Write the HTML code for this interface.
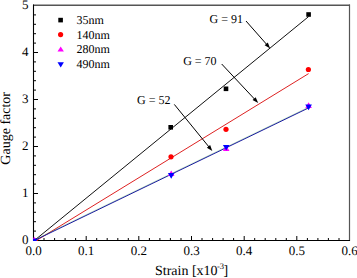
<!DOCTYPE html>
<html><head><meta charset="utf-8">
<style>
html,body{margin:0;padding:0;background:#fff;}
body{width:357px;height:278px;overflow:hidden;position:relative;}
svg{position:absolute;left:0;top:0;}
text{font-family:"Liberation Serif",serif;fill:#000;text-rendering:geometricPrecision;}
</style></head><body>
<svg width="357" height="278" viewBox="0 0 357 278">
<defs>
<clipPath id="pa"><rect x="33" y="5" width="317" height="236"/></clipPath>
</defs>
<!-- frame -->
<line x1="33" y1="5.2" x2="350" y2="5.2" stroke="#555" stroke-width="1.4"/>
<line x1="349.5" y1="4.5" x2="349.5" y2="241" stroke="#555" stroke-width="1.2"/>
<line x1="33.5" y1="4.5" x2="33.5" y2="241" stroke="#000" stroke-width="1.1"/>
<line x1="33" y1="240.5" x2="350" y2="240.5" stroke="#000" stroke-width="1.1"/>
<!-- y ticks -->
<g stroke="#000" stroke-width="1">
<path d="M34 193.5h4M34 146.5h4M34 99.5h4M34 52.5h4"/>
<path d="M34 231.1h2M34 221.7h2M34 212.3h2M34 202.9h2M34 184.1h2M34 174.7h2M34 165.3h2M34 155.9h2M34 137.1h2M34 127.7h2M34 118.3h2M34 108.9h2M34 90.1h2M34 80.7h2M34 71.3h2M34 61.9h2M34 43.1h2M34 33.7h2M34 24.3h2M34 14.9h2"/>
</g>
<!-- x ticks -->
<g stroke="#000" stroke-width="1">
<path d="M86.2 240v-4M138.8 240v-4M191.5 240v-4M244.2 240v-4M296.8 240v-4"/>
<path d="M44.0 240v-2M54.6 240v-2M65.1 240v-2M75.6 240v-2M96.7 240v-2M107.2 240v-2M117.8 240v-2M128.3 240v-2M149.4 240v-2M159.9 240v-2M170.4 240v-2M181.0 240v-2M202.0 240v-2M212.6 240v-2M223.1 240v-2M233.6 240v-2M254.7 240v-2M265.2 240v-2M275.8 240v-2M286.3 240v-2M307.4 240v-2M317.9 240v-2M328.4 240v-2M339.0 240v-2"/>
</g>
<!-- y tick labels -->
<g font-size="13" text-anchor="middle">
<text x="25.2" y="243.8">0</text>
<text x="25.2" y="196.8">1</text>
<text x="25.2" y="149.8">2</text>
<text x="25.2" y="102.8">3</text>
<text x="25.2" y="55.8">4</text>
<text x="25.2" y="8.8">5</text>
</g>
<!-- x tick labels -->
<g font-size="13" text-anchor="middle">
<text x="33.5" y="255">0.0</text>
<text x="86.2" y="255">0.1</text>
<text x="138.8" y="255">0.2</text>
<text x="191.5" y="255">0.3</text>
<text x="244.2" y="255">0.4</text>
<text x="296.8" y="255">0.5</text>
<text x="349.5" y="255">0.6</text>
</g>
<!-- axis titles -->
<text x="155" y="275.3" font-size="14">Strain [x10<tspan font-size="8.5" dx="-0.7" dy="-6.8">-3</tspan><tspan dx="-0.6" dy="6.8">]</tspan></text>
<text transform="translate(9.7,128.3) rotate(-90)" font-size="14" text-anchor="middle">Gauge factor</text>
<!-- fit lines -->
<g clip-path="url(#pa)" fill="none" stroke-width="1">
<line x1="33.5" y1="241.2" x2="308.6" y2="16.6" stroke="#111"/>
<line x1="35" y1="241.4" x2="308.6" y2="73.6" stroke="#dd2222"/>
<line x1="33.5" y1="240.2" x2="308.6" y2="107.2" stroke="#33aa33" stroke-opacity="0.3"/>
<line x1="33.5" y1="240.9" x2="308.6" y2="107.9" stroke="#1a1aa0"/>
</g>
<!-- markers -->
<g clip-path="url(#pa)">
<rect x="32" y="238.5" width="4.6" height="4.6" fill="#000"/>
<rect x="168.4" y="125" width="4.6" height="4.6" fill="#000"/>
<rect x="223.7" y="86.5" width="4.6" height="4.6" fill="#000"/>
<rect x="306.3" y="12.2" width="4.6" height="4.6" fill="#000"/>
<circle cx="35.6" cy="242" r="2.6" fill="#f00"/>
<circle cx="171" cy="156.8" r="2.6" fill="#f00"/>
<circle cx="226" cy="129.3" r="2.6" fill="#f00"/>
<circle cx="308.4" cy="69.5" r="2.6" fill="#f00"/>
<path d="M34.2 236.8l3.1 5.6h-6.2z" fill="#f0f"/>
<path d="M171.2 170.4l3.3 5.7h-6.6z" fill="#f0f"/>
<path d="M226.2 145.4l3.3 5.7h-6.6z" fill="#f0f"/>
<path d="M308.6 102.3l3.3 5.7h-6.6z" fill="#f0f"/>
<path d="M31.2 238.7h6.6l-3.3 5.6z" fill="#00f"/>
<path d="M167.9 173.1h6.6l-3.3 5.7z" fill="#00f"/>
<path d="M222.9 144.9h6.6l-3.3 5.7z" fill="#00f"/>
<path d="M305.3 104.6h6.6l-3.3 5.7z" fill="#00f"/>
</g>
<!-- arrows -->
<g stroke="#000" stroke-width="1" fill="none">
<line x1="246" y1="21" x2="266.89" y2="44.65"/>
<line x1="221.7" y1="64" x2="254.78" y2="99.35"/>
<line x1="174.3" y1="104.4" x2="209.14" y2="147.13"/>
</g>
<g fill="#000">
<path d="M270.20 48.40L264.65 45.29L267.80 42.51z"/>
<path d="M258.20 103.00L252.57 100.05L255.63 97.18z"/>
<path d="M212.30 151.00L206.88 147.68L210.14 145.02z"/>
</g>
<!-- G labels -->
<g font-size="12">
<text x="209.5" y="23.1">G = 91</text>
<text x="183.2" y="65.3">G = 70</text>
<text x="137" y="104">G = 52</text>
</g>
<!-- legend -->
<rect x="58.3" y="17.8" width="4.6" height="4.6" fill="#000"/>
<circle cx="60.6" cy="34.6" r="2.6" fill="#f00"/>
<path d="M60.7 46.6l3.2 5h-6.4z" fill="#f0f"/>
<path d="M57.5 62.2h6.4l-3.2 5.4z" fill="#00f"/>
<g font-size="12">
<text x="76.5" y="23.6">35nm</text>
<text x="76.5" y="38.6">140nm</text>
<text x="76.5" y="52.9">280nm</text>
<text x="76.5" y="67.9">490nm</text>
</g>
</svg>
</body></html>
